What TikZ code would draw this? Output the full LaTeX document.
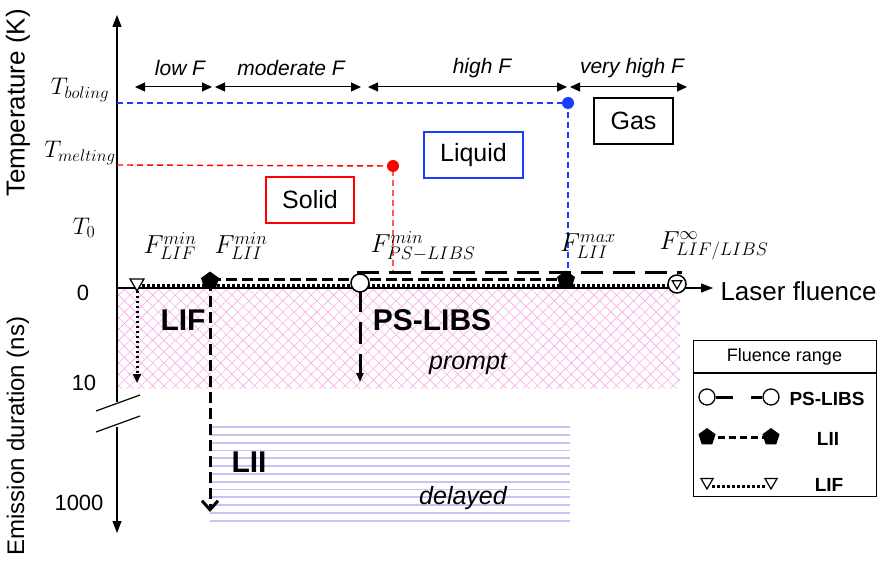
\RequirePackage{fix-cm}
\documentclass[tikz,border=0pt]{standalone}
\usepackage{fontspec}
\setmainfont{Liberation Sans}
\usetikzlibrary{arrows.meta,shapes.geometric,patterns.meta}
\newcommand\setfs[1]{\fontsize{#1}{#1}\selectfont}
\definecolor{pinkc}{RGB}{248,170,232}
\definecolor{lavc}{RGB}{200,195,245}
\definecolor{bluec}{RGB}{25,60,255}
\definecolor{redc}{RGB}{255,0,0}
\tikzset{
 ax/.style={line width=1.3pt},
 axtip/.style={-{Triangle[length=12pt,width=9pt]}},
 rng/.style={line width=1pt,{Triangle[length=10pt,width=9pt]}-{Triangle[length=10pt,width=9pt]}},
 tdash/.style={line width=1.4pt,dash pattern=on 6pt off 4pt},
 dotm/.style={circle,inner sep=0pt,minimum size=12pt},
 phase/.style={draw,line width=1.2pt,minimum height=46pt,inner sep=0pt,font={\setfs{25}}},
 rlab/.style={font={\setfs{21}\itshape}},
 lifline/.style={line width=3pt,dash pattern=on 2.5pt off 2.5pt},
 liiline/.style={line width=3pt,dash pattern=on 11pt off 5pt},
 libsline/.style={line width=3.5pt,dash pattern=on 22pt off 10pt},
 circmark/.style={circle,draw,fill=white,line width=1.5pt,minimum size=18pt,inner sep=0pt},
 pentmark/.style={regular polygon,regular polygon sides=5,fill=black,minimum size=19pt,inner sep=0pt},
 trimark/.style={regular polygon,regular polygon sides=3,shape border rotate=180,draw,fill=white,line width=1.3pt,minimum size=16pt,inner sep=0pt},
 biglab/.style={font={\setfs{30}\bfseries}},
 leglab/.style={font={\setfs{19}\bfseries}},
 numlab/.style={font={\setfs{22}}},
 mathlab/.style={font={\setfs{24}}},
 flab/.style={font={\setfs{26}}},
}
\begin{document}
\begin{tikzpicture}[x=1pt,y=-1pt]
\useasboundingbox (0,0) rectangle (880,561);

% prompt region (pink mesh)
\fill[pattern={Lines[angle=45,distance=8pt,line width=0.6pt]},pattern color=pinkc] (117,288) rectangle (680,388);
\fill[pattern={Lines[angle=-45,distance=8pt,line width=0.6pt]},pattern color=pinkc] (117,288) rectangle (680,388);
% delayed region (lavender lines)
\foreach \yy in {0,...,12} \draw[lavc,line width=1.8pt] (210,427+7.8*\yy) -- (570,427+7.8*\yy);

% axes
\coordinate (O) at (117,288);
\coordinate (Ytop) at (117,15);
\coordinate (Xend) at (713,288);
\coordinate (Yb1) at (117,402);
\coordinate (Yb2) at (117,427);
\coordinate (Ybot) at (117,533);
\draw[ax,axtip] (Yb1) -- (Ytop);
\draw[ax,axtip] (O) -- (Xend);
\draw[line width=1.2pt,-{Triangle[length=12pt,width=9pt]}] (Yb2) -- (Ybot);
\coordinate (k1a) at (96,411); \coordinate (k1b) at (140,395);
\coordinate (k2a) at (96,432); \coordinate (k2b) at (140,416);
\draw[line width=1.2pt] (k1a) -- (k1b);
\draw[line width=1.2pt] (k2a) -- (k2b);

% axis labels
\node[rotate=90,font={\setfs{26}}] (ylabT) at (18,103) {Temperature (K)};
\node[rotate=90,font={\setfs{24}}] (ylabE) at (18,436) {Emission duration (ns)};
\node[anchor=west,font={\setfs{26}}] (xlab) at (717,291) {Laser fluence};
\node[numlab] (n0) at (83,293) {0};
\node[numlab] (n10) at (84,383) {10};
\node[numlab] (n1000) at (79,503) {1000};
\node[mathlab] (tb) at (80,90) {$T_{boling}$};
\node[mathlab] (tm) at (80,153) {$T_{melting}$};
\node[mathlab] (t0) at (84,228) {$T_0$};

% temperature lines
\node[dotm,fill=bluec] (bdot) at (568,103) {};
\node[dotm,fill=redc] (rdot) at (393,166) {};
\coordinate (bL) at (117,103);
\coordinate (rL) at (117,165);
\coordinate (bD) at (568,270);
\coordinate (rD) at (393,272);
\draw[tdash,bluec] (bL) -- (bdot.center) -- (bD);
\draw[tdash,redc] (rL) -- (rdot.center) -- (rD);

% fluence ranges
\coordinate (r1a) at (135,87); \coordinate (r1b) at (212,87);
\coordinate (r2a) at (215,87); \coordinate (r2b) at (361,87);
\coordinate (r3a) at (368,87); \coordinate (r3b) at (567,87);
\coordinate (r4a) at (570,87); \coordinate (r4b) at (687,87);
\draw[rng] (r1a) -- (r1b);
\draw[rng] (r2a) -- (r2b);
\draw[rng] (r3a) -- (r3b);
\draw[rng] (r4a) -- (r4b);
\node[rlab] (l1) at (180,68) {low F};
\node[rlab] (l2) at (291,68) {moderate F};
\node[rlab] (l3) at (482,68) {high F};
\node[rlab] (l4) at (632,68) {very high F};

% phases
\node[phase,draw=redc,minimum width=88pt] (solid) at (310,200) {Solid};
\node[phase,draw=bluec,minimum width=99pt] (liquid) at (473.5,155) {Liquid};
\node[phase,draw=black,minimum width=79pt] (gas) at (633.5,121) {Gas};

% F labels
\node[flab] (f1) at (170,246) {$F_{LIF}^{min}$};
\node[flab] (f2) at (241,246) {$F_{LII}^{min}$};
\node[flab] (f3) at (423,246) {$F_{PS-LIBS}^{min}$};
\node[flab] (f4) at (588,246) {$F_{LII}^{max}$};
\node[flab] (f5) at (714,246) {$F_{LIF/LIBS}^{\infty}$};

% fluence-range lines on the axis
\coordinate (lifA) at (137,285.5);
\coordinate (lifB) at (677,285.5);
\coordinate (liiA) at (210,279.5);
\coordinate (liiB) at (566,279.5);
\coordinate (libA) at (357,272.5);
\coordinate (libB) at (682,272.5);
\draw[lifline] (lifA) -- (lifB);
\draw[liiline] (liiA) -- (liiB);
\draw[libsline] (libA) -- (libB);

% vertical emission arrows
\coordinate (lifE) at (137,383);
\coordinate (liiE) at (210,512);
\coordinate (libS) at (360,290);
\coordinate (libE) at (360,382);
\draw[lifline,-{Triangle[length=9pt,width=8pt]}] (lifA) -- (lifE);
\draw[liiline,-{Straight Barb[length=9pt,width=16pt]}] (liiA) -- (liiE);
\draw[libsline,line width=3pt,-{Triangle[length=9pt,width=7pt]}] (libS) -- (libE);

% markers
\node[trimark] (m1) at (137,283) {};
\node[pentmark] (m2) at (210,281) {};
\node[circmark] (m3) at (360,283) {};
\node[pentmark] (m4) at (566,280) {};
\node[circmark] (m5) at (677,284) {};
\node[trimark,minimum size=11pt,line width=1.2pt] (m5t) at (677,283.5) {};

% region labels
\node[biglab] (tLIF) at (183,320) {LIF};
\node[biglab] (tPS) at (432,320) {PS-LIBS};
\node[font={\setfs{25}\itshape}] (tprompt) at (468,364) {prompt};
\node[biglab] (tLII) at (249,462) {LII};
\node[font={\setfs{25}\itshape}] (tdelayed) at (463,498) {delayed};

% legend
\node[draw,line width=1.2pt,minimum width=183pt,minimum height=156pt,inner sep=0pt,anchor=north west] (leg) at (693,340) {};
\coordinate (hL) at (693,373); \coordinate (hR) at (876,373);
\draw[line width=1.2pt] (hL) -- (hR);
\node[font={\setfs{18}}] (legh) at (784.5,357) {Fluence range};
% row 1
\node[circmark,minimum size=16pt,line width=1.3pt] (c1) at (707,397) {};
\node[circmark,minimum size=16pt,line width=1.3pt] (c2) at (771,397) {};
\draw[line width=3pt,dash pattern=on 17pt off 18pt on 20pt] (c1.east) -- (c2.west);
\node[leglab] (lg1) at (827,399) {PS-LIBS};
% row 2
\node[pentmark,minimum size=18pt] (p1) at (707,437) {};
\node[pentmark,minimum size=18pt] (p2) at (771,437) {};
\draw[line width=3pt,dash pattern=on 7pt off 4pt] (p1.center) -- (p2.center);
\node[leglab] (lg2) at (828,439) {LII};
% row 3
\coordinate (q1r) at (712,486); \coordinate (q2l) at (766,486);
\draw[line width=3pt,dash pattern=on 2.5pt off 2.5pt] (q1r) -- (q2l);
\node[trimark,minimum size=14pt,line width=1.2pt] (q1) at (707,482) {};
\node[trimark,minimum size=14pt,line width=1.2pt] (q2) at (771,482) {};
\node[leglab] (lg3) at (829,485) {LIF};
\end{tikzpicture}
\end{document}
